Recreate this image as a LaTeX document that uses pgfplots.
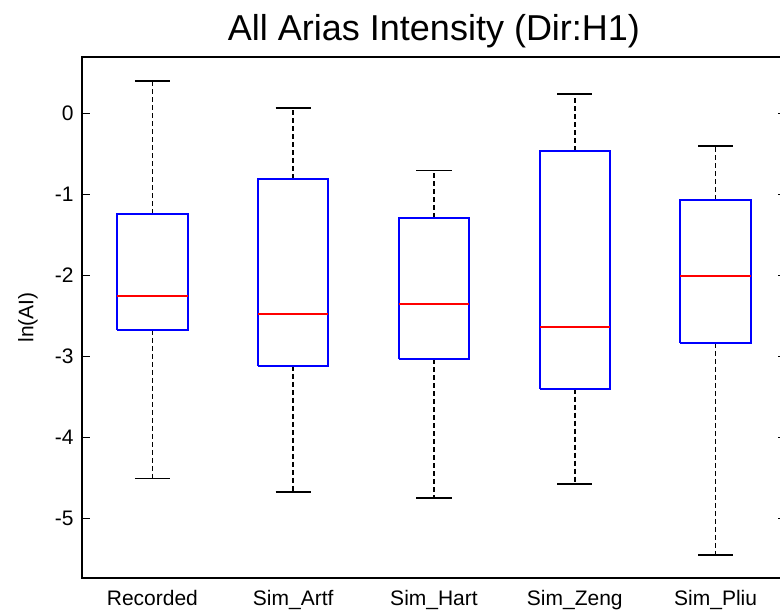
\documentclass[border=0pt]{standalone}
\usepackage{pgfplots}
\pgfplotsset{compat=1.18}
\usepackage{fontspec}
\setmainfont{Liberation Sans}
\begin{document}
\begin{tikzpicture}
\begin{axis}[
  scale only axis,
  width=352pt, height=260.5pt,
  xmin=0.5, xmax=5.5,
  ymin=-5.73, ymax=0.694,
  axis line style={line width=1pt},
  xtick={1,2,3,4,5},
  xticklabels={Recorded,Sim\_Artf,Sim\_Hart,Sim\_Zeng,Sim\_Pliu},
  ytick={-5,-4,-3,-2,-1,0},
  yticklabels={-5,-4,-3,-2,-1,0},
  tick align=inside,
  x tick style={draw=none},
  y tick style={line width=0.7pt, black},
  major tick length=4pt,
  yticklabel pos=left,
  xticklabel style={font=\fontsize{10.5}{12}\selectfont, anchor=base, yshift=-13.5pt, inner sep=0pt},
  yticklabel style={font=\fontsize{10.5}{12}\selectfont, anchor=east, inner sep=0pt, xshift=-4pt},
  title={All Arias Intensity (Dir:H1)},
  title style={font=\fontsize{18}{21}\selectfont, at={(axis description cs:0.5,1)}, anchor=base, yshift=2pt, inner sep=0pt},
  ylabel={ln(AI)},
  ylabel style={font=\fontsize{10.5}{12}\selectfont, at={(axis description cs:-0.0767,0.5)}, anchor=center, rotate=0},
  box/.style={blue, line width=1pt},
  med/.style={red, line width=1pt},
  whisk/.style={black, line width=0.75pt, dash pattern=on 2.5pt off 1.5pt},
  cap/.style={black, line width=0.8pt},
]
% Recorded: lw -4.501, lq -2.672, med -2.249, uq -1.245, uw 0.398
\addplot[whisk] coordinates {(1,-1.245) (1,0.398)};
\addplot[whisk] coordinates {(1,-2.672) (1,-4.501)};
\addplot[cap] coordinates {(0.875,0.398) (1.125,0.398)};
\addplot[cap] coordinates {(0.875,-4.501) (1.125,-4.501)};
\addplot[box] coordinates {(0.75,-2.672) (1.25,-2.672) (1.25,-1.245) (0.75,-1.245) (0.75,-2.672)};
\addplot[med] coordinates {(0.75,-2.249) (1.25,-2.249)};
% Sim_Artf: lw -4.670, lq -3.116, med -2.471, uq -0.806, uw 0.065
\addplot[whisk] coordinates {(2,-0.806) (2,0.065)};
\addplot[whisk] coordinates {(2,-3.116) (2,-4.670)};
\addplot[cap] coordinates {(1.875,0.065) (2.125,0.065)};
\addplot[cap] coordinates {(1.875,-4.670) (2.125,-4.670)};
\addplot[box] coordinates {(1.75,-3.116) (2.25,-3.116) (2.25,-0.806) (1.75,-0.806) (1.75,-3.116)};
\addplot[med] coordinates {(1.75,-2.471) (2.25,-2.471)};
% Sim_Hart: lw -4.744, lq -3.033, med -2.348, uq -1.291, uw -0.708
\addplot[whisk] coordinates {(3,-1.291) (3,-0.708)};
\addplot[whisk] coordinates {(3,-3.033) (3,-4.744)};
\addplot[cap] coordinates {(2.875,-0.708) (3.125,-0.708)};
\addplot[cap] coordinates {(2.875,-4.744) (3.125,-4.744)};
\addplot[box] coordinates {(2.75,-3.033) (3.25,-3.033) (3.25,-1.291) (2.75,-1.291) (2.75,-3.033)};
\addplot[med] coordinates {(2.75,-2.348) (3.25,-2.348)};
% Sim_Zeng: lw -4.571, lq -3.396, med -2.631, uq -0.465, uw 0.238
\addplot[whisk] coordinates {(4,-0.465) (4,0.238)};
\addplot[whisk] coordinates {(4,-3.396) (4,-4.571)};
\addplot[cap] coordinates {(3.875,0.238) (4.125,0.238)};
\addplot[cap] coordinates {(3.875,-4.571) (4.125,-4.571)};
\addplot[box] coordinates {(3.75,-3.396) (4.25,-3.396) (4.25,-0.465) (3.75,-0.465) (3.75,-3.396)};
\addplot[med] coordinates {(3.75,-2.631) (4.25,-2.631)};
% Sim_Pliu: lw -5.443, lq -2.832, med -2.006, uq -1.069, uw -0.403
\addplot[whisk] coordinates {(5,-1.069) (5,-0.403)};
\addplot[whisk] coordinates {(5,-2.832) (5,-5.443)};
\addplot[cap] coordinates {(4.875,-0.403) (5.125,-0.403)};
\addplot[cap] coordinates {(4.875,-5.443) (5.125,-5.443)};
\addplot[box] coordinates {(4.75,-2.832) (5.25,-2.832) (5.25,-1.069) (4.75,-1.069) (4.75,-2.832)};
\addplot[med] coordinates {(4.75,-2.006) (5.25,-2.006)};
\end{axis}
\pgfresetboundingbox
\path[use as bounding box] ([xshift=-41pt,yshift=-16pt]current axis.south west) rectangle ([xshift=-3pt,yshift=28.5pt]current axis.north east);
\end{tikzpicture}
\end{document}
